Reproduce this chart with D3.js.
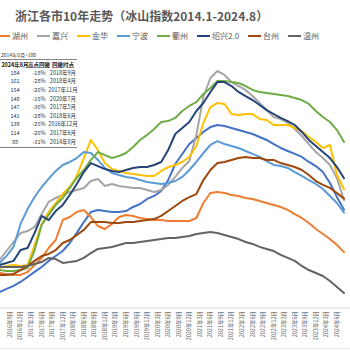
<!DOCTYPE html>
<html><head><meta charset="utf-8">
<script src="https://cdn.jsdelivr.net/npm/d3@7"></script>
<style>html,body{margin:0;padding:0;background:#fff;overflow:hidden}
text{font-family:"Noto Sans CJK SC","Noto Sans",sans-serif;}</style>
</head><body><svg id="c" width="350" height="350"></svg>
<script>
const titleText = "浙江各市10年走势（冰山指数2014.1-2024.8）";
const seriesNames = ["杭州","湖州","嘉兴","金华","宁波","衢州","绍兴2.0","台州","温州"];
const seriesColors = ["#4472C4","#ED7D31","#A5A5A5","#FFC000","#5B9BD5","#70AD47","#264478","#9E480E","#636363"];
// bimonthly readings, 2016年6月 .. 2024年8月
const hangzhou = [88.6,90.6,92.5,95.0,98.2,101.4,104.5,108.4,111.5,114.7,119.8,126.2,133.1,139.5,140.8,140.1,139.5,139.5,140.1,142.7,144.6,147.8,149.7,152.9,159.8,170.0,176.4,182.7,186.5,190.4,193.5,194.8,194.2,192.9,191.6,190.4,189.1,187.2,185.3,182.7,180.2,178.3,176.4,174.5,171.3,168.7,164.9,157.9,149.0,141];
const huzhou = [100.7,100.1,99.5,99.5,101.4,105.8,110.3,116.6,121.7,134.4,136.3,139.5,140.8,136.3,130.6,128.7,131.9,136.3,137.6,137,135.7,135,134.4,134.4,133.8,133.8,133.8,133.8,135.7,145.2,151.6,152.2,151.6,150.3,149.7,148.4,147.8,146.5,145.2,144,142.7,140.8,138.2,135.7,132.5,128.7,125.5,122.3,118.5,114];
const jiaxing = [109,114.7,120.4,126.2,127.4,130,138.2,145.9,148.4,150.3,152.2,153.5,154.8,159.2,160.5,156,157.3,156,155.4,154.8,154.8,153.5,152.2,153.5,156.7,161.8,167.5,171.9,188.5,212.6,224.7,229.1,226.6,222.1,219.6,217.1,213.2,208.8,204.3,199.9,198.6,196.1,192.3,187.8,182.7,177.6,173.8,169.4,161,147];
const jinhua = [103.9,105.2,105.8,105.2,105.8,118.5,131.9,139.5,145.2,150.9,155.4,162.4,173.8,185.3,178.9,170.6,166.8,165.6,164.3,163.7,163,162.4,162.4,165.6,168.1,169.4,171.3,174.5,181.5,196.1,206.2,208.8,208.2,201.8,201.2,201.8,201.8,198.6,198,194.8,194.8,194.8,192.9,191,187.2,184,180.2,182.1,163,154];
const ningbo = [107.1,111.5,117.3,131.9,141.4,149,155.4,160.5,165.6,169.4,171.3,173.8,177.6,177,172.6,167.5,164.3,163,161.8,161.1,159.8,158.6,157.9,157.3,157.9,159.2,161.8,166.2,171.3,177,182.1,184.6,182.7,181.5,180.2,178.3,176.4,174.5,171.9,169.4,168.7,167.5,164.9,162.4,159.8,157.3,154.1,149.7,145.2,139];
const quzhou = [102.6,102,102,102.6,103.9,115.3,131.2,137.6,144,148.4,154.8,161.1,166.2,172.6,177.6,175.7,173.8,175.1,177,180.8,185.3,188.5,192.3,196.7,197.3,199.3,203.7,206.9,209.4,214.5,218.3,222.8,222.8,222.1,221.5,219.6,217.1,215.8,215.1,214.5,213.9,213.2,212,210.7,208.2,203.7,199.9,196.7,191.6,184];
const shaoxing = [105.8,107.1,108.4,115.3,116.6,126.2,137,134.4,140.1,144,150.3,157.3,164.9,170.6,168.7,166.8,165.6,164.9,166.2,167.5,168.1,168.1,169.4,171.3,178.9,189.1,192.9,196.7,203.7,208.8,215.8,222.1,222.1,219.6,215.8,213.2,210.7,207.5,204.3,201.8,199.3,197.3,194.8,190.4,185.3,181.5,177.6,173.8,168.1,161];
const taizhou = [99.5,99.5,100.1,102.6,105.2,108.4,111.5,112.8,115.3,119.8,121.7,124.9,128.1,133.1,133.1,133.1,132.5,132.5,133.1,133.1,133.8,134.4,135,137,140.1,143.3,146.5,149,150.9,159.8,166.2,170.6,171.3,172.6,173.8,174.5,173.8,173.8,172.6,172.6,170.6,169.4,168.1,166.2,163,159.2,156.7,154.8,151.6,148];
const wenzhou = [104.5,104.5,104.5,104.5,105.2,106.4,107.7,110.3,109.6,107.1,107.7,108.4,110.3,113.4,116,116.6,117.3,118.5,119.8,119.8,120.4,121.1,121.7,122.3,123,123,123.6,124.2,125.5,126.2,126.8,126.2,124.9,123.6,122.3,120.4,119.2,117.3,116,114.7,112.2,110.3,108.4,105.2,102.6,100.7,98.8,95.6,91.8,88];
const seriesValues = [hangzhou,huzhou,jiaxing,jinhua,ningbo,quzhou,shaoxing,taizhou,wenzhou];

const tableNote = "2014年8月=100";
const tableHeader = ["2024年8月","高点回撤","回撤时点"];
const tableNow = [184,161,154,148,147,141,139,114,88];
const tableDrawdown = ["-18%","-28%","-26%","-15%","-36%","-28%","-25%","-26%","-31%"];
const tableDate = ["2018年9月","2018年4月","2017年11月","2020年7月","2017年5月","2018年6月","2016年12月","2017年6月","2014年8月"];

// categories
const allMonths = [];
for (let y = 2014; y <= 2024; y++) for (let m = 1; m <= 12; m++) { if (y === 2024 && m > 8) break; allMonths.push(y + "年" + m + "月"); }
const dataMonths = allMonths.slice(allMonths.indexOf("2016年6月")).filter((d, i) => i % 2 === 0);
const tickMonths = allMonths.filter(d => /年(3|6|9|12)月$/.test(d));

const svg = d3.select("#c");
svg.append("rect").attr("width",350).attr("height",350).attr("fill","#fff");

const x = d3.scalePoint().domain(allMonths).range([-102.5, 344]);
const y = d3.scaleLinear().domain([88, 184]).range([293, 142]);

// title
svg.append("text").attr("x",15).attr("y",21).attr("font-size",12).attr("font-weight","bold")
  .attr("fill","#595959").text(titleText);

// legend (the first item lies left of the visible area, as in the cropped original)
const lg = svg.append("g").attr("transform","translate(0,36)");
let lx = -43;
seriesNames.forEach((n, i) => {
  lg.append("line").attr("x1",lx).attr("x2",lx+13).attr("y1",0).attr("y2",0)
    .attr("stroke",seriesColors[i]).attr("stroke-width",2);
  const t = lg.append("text").attr("x",lx+15).attr("y",2.8).attr("font-size",8).attr("fill","#595959").text(n);
  const w = t.node().getComputedTextLength();
  if (lx + 15 < 0) t.remove();
  lx += 15 + w + 9;
});

// x axis
const axisY = 308;
svg.append("line").attr("x1",0).attr("x2",350).attr("y1",axisY).attr("y2",axisY).attr("stroke","#d9d9d9").attr("stroke-width",1);
svg.append("g").selectAll("text").data(tickMonths.filter(d => x(d) > 4)).join("text")
  .attr("transform", d => `translate(${x(d)},${axisY+3}) rotate(-90)`)
  .attr("text-anchor","end").attr("dy","0.35em").attr("font-size",5.5).attr("fill","#595959").text(d => d);
svg.append("line").attr("x1",0).attr("x2",350).attr("y1",348.5).attr("y2",348.5).attr("stroke","#e3e3e3");

// lines
const line = d3.line().x(d => x(d.m)).y(d => y(d.v));
seriesValues.forEach((vals, i) => {
  svg.append("path").datum(vals.map((v, k) => ({m: dataMonths[k], v})))
    .attr("d", line).attr("fill","none").attr("stroke",seriesColors[i])
    .attr("stroke-width",2).attr("stroke-linejoin","round").attr("stroke-linecap","round");
});

// table
const tb = svg.append("g");
const colX = [15, 39, 63];
tb.append("text").attr("x",1).attr("y",57).attr("font-size",5).attr("fill","#333").text(tableNote);
tb.append("line").attr("x1",0).attr("x2",77).attr("y1",59.5).attr("y2",59.5).attr("stroke","#666").attr("stroke-width",0.8);
tableHeader.forEach((h, j) => tb.append("text").attr("x",colX[j]).attr("y",67).attr("text-anchor","middle")
  .attr("font-size",5.5).attr("font-weight","bold").attr("fill","#222").text(h));
const rowY = d3.scaleLinear().domain([0, 8]).range([74.7, 143.7]);
tableNow.forEach((v0, i) => {
  const cells = [v0, tableDrawdown[i], tableDate[i]];
  cells.forEach((v, j) => tb.append("text").attr("x",colX[j]).attr("y",rowY(i)).attr("text-anchor","middle")
    .attr("font-size",5.5).attr("fill","#333").text(v));
});
tb.append("line").attr("x1",0).attr("x2",77).attr("y1",147.5).attr("y2",147.5).attr("stroke","#666").attr("stroke-width",0.8);
</script></body></html>
